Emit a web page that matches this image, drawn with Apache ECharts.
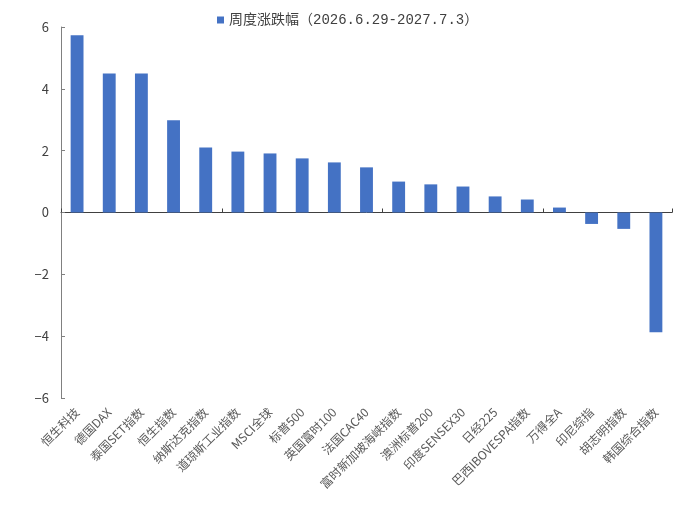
<!DOCTYPE html>
<html>
<head>
<meta charset="utf-8">
<script src="https://cdn.jsdelivr.net/npm/echarts@6/dist/echarts.min.js"></script>
<style>
  html, body { margin: 0; padding: 0; background: #fff; }
  #chart { width: 676px; height: 512px; }
</style>
</head>
<body>
<div id="chart"></div>
<script>
  // 指数名称
  var categories = ['恒生科技', '德国DAX', '泰国SET指数', '恒生指数', '纳斯达克指数', '道琼斯工业指数',
    'MSCI全球', '标普500', '英国富时100', '法国CAC40', '富时新加坡海峡指数', '澳洲标普200',
    '印度SENSEX30', '日经225', '巴西IBOVESPA指数', '万得全A', '印尼综指', '胡志明指数', '韩国综合指数'];
  // 周度涨跌幅 (%)
  var weekly = [5.73, 4.50, 4.50, 2.98, 2.10, 1.97, 1.91, 1.75, 1.62, 1.46, 1.00, 0.91,
    0.84, 0.52, 0.42, 0.16, -0.37, -0.53, -3.87];
  var seriesName = '周度涨跌幅（2026.6.29-2027.7.3）';

  var font = '"Noto Sans CJK SC", "Liberation Sans", sans-serif';
  var myChart = echarts.init(document.getElementById('chart'));
  var option = {
    animation: false,
    textStyle: { fontFamily: font },
    legend: {
      top: 8,
      left: 212,
      itemWidth: 7,
      itemHeight: 7,
      itemGap: 6,
      icon: 'rect',
      textStyle: {
        fontSize: 14,
        color: '#404040',
        fontFamily: '"Liberation Mono", "Noto Sans CJK SC", monospace'
      },
      data: [seriesName]
    },
    grid: { left: 61, right: 4, top: 27, bottom: 114, containLabel: false },
    xAxis: [{
      // 0 轴线和刻度
      type: 'category',
      data: categories,
      axisLine: { onZero: true, lineStyle: { color: '#404040', width: 1 } },
      axisTick: { show: true, inside: true, length: 4, lineStyle: { color: '#404040' } },
      axisLabel: { show: false }
    }, {
      // 底部标签
      type: 'category',
      data: categories,
      position: 'bottom',
      axisLine: { show: false, onZero: false },
      axisTick: { show: false },
      axisLabel: {
        interval: 0,
        rotate: 45,
        margin: 12,
        fontSize: 12,
        color: '#595959',
        fontFamily: font
      }
    }],
    yAxis: {
      type: 'value',
      min: -6,
      max: 6,
      interval: 2,
      axisLine: { show: true, lineStyle: { color: '#808080' } },
      axisTick: { show: true, inside: true, length: 4, lineStyle: { color: '#808080' } },
      splitLine: { show: false },
      axisLabel: {
        fontSize: 13,
        color: '#404040',
        margin: 12,
        formatter: function (v) { return String(v).replace('-', '\u2212'); }
      }
    },
    series: [{
      name: seriesName,
      type: 'bar',
      xAxisIndex: 0,
      barWidth: '40%',
      itemStyle: { color: '#4472C4' },
      data: weekly
    }]
  };
  myChart.setOption(option);
</script>
</body>
</html>
